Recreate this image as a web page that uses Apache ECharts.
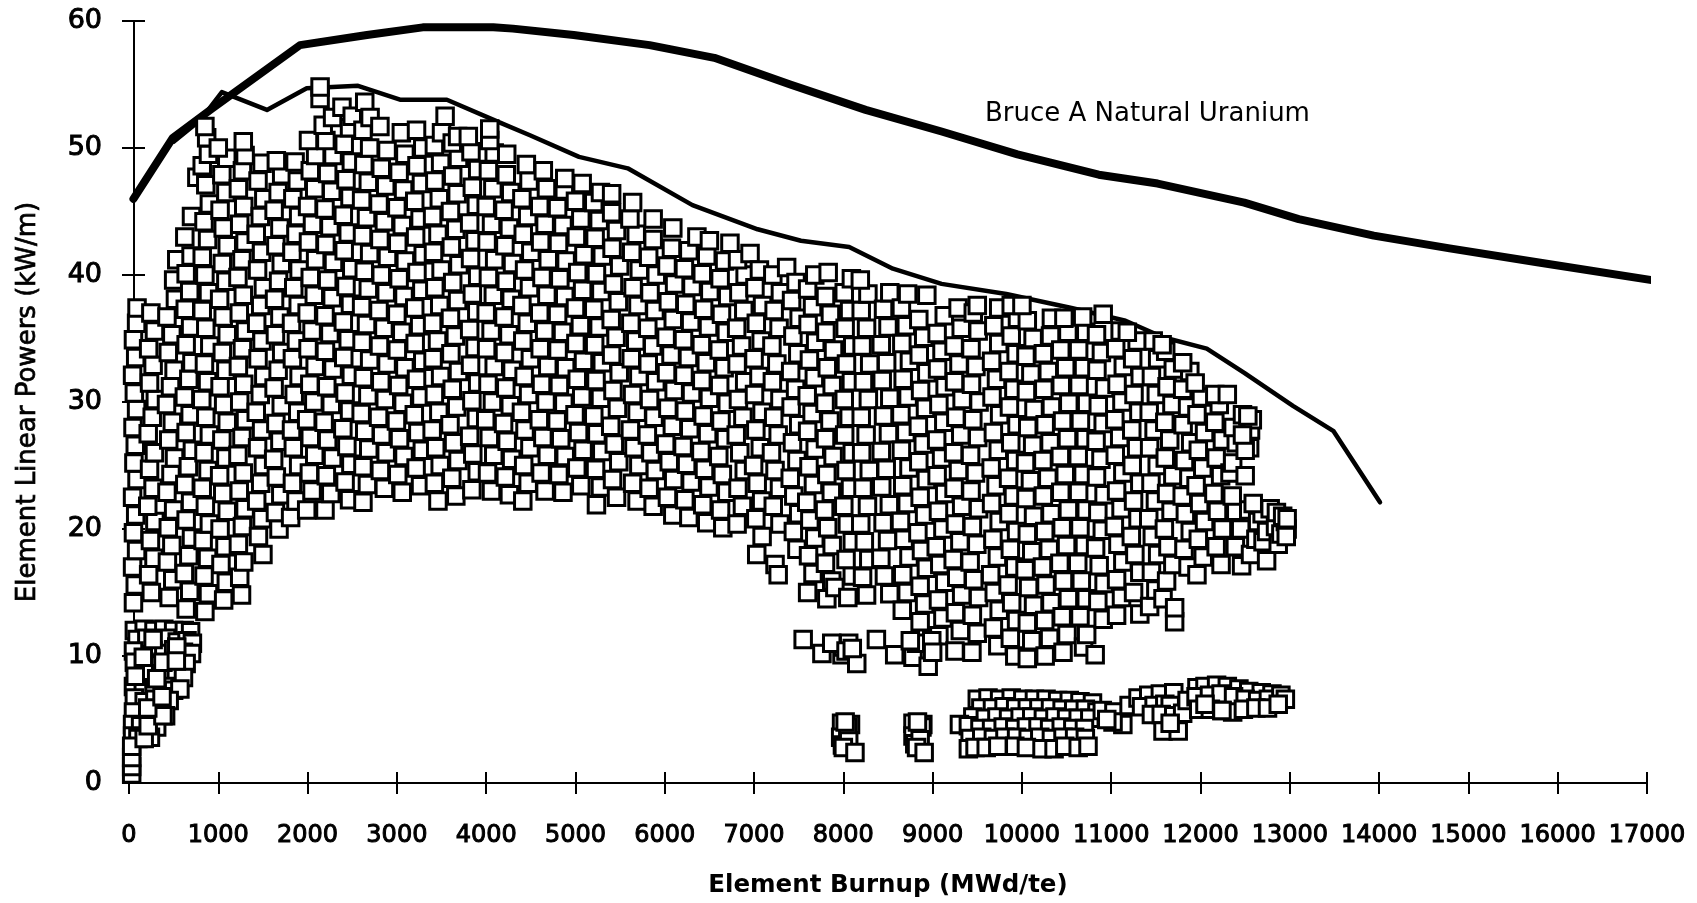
<!DOCTYPE html>
<html><head><meta charset="utf-8"><style>html,body{margin:0;padding:0;background:#fff}#c{width:1697px;height:903px}</style>
<script src="https://cdn.jsdelivr.net/npm/echarts@6/dist/echarts.min.js"></script></head><body><div id="c"></div>
<script>
const bruceBurnup=[50,490,930,1915,2665,3290,4080,4300,4980,5830,6555,7405,8250,9100,9950,10860,11520,12490,13100,13940,14790,15770,17145];
const brucePower=[46,50.8,53.1,58.1,58.9,59.5,59.5,59.4,58.9,58.1,57.1,55,53,51.3,49.5,47.9,47.2,45.7,44.4,43.1,42.1,41,39.5];
const envelopeBurnup=[500,800,1040,1545,1990,2565,3035,3560,4155,4490,5040,5585,6310,7040,7525,8065,8555,9100,9825,10555,11160,11580,12070,12490,13035,13490,14010];
const envelopePower=[50.5,52.2,54.4,53,54.7,54.9,53.8,53.8,52,51,49.3,48.4,45.5,43.6,42.7,42.2,40.5,39.3,38.5,37.4,36.4,35.1,34.2,32.3,29.7,27.7,22.1];
const xTickLabels=["0","1000","2000","3000","4000","5000","6000","7000","8000","9000","10000","11000","12000","13000","14000","15000","16000","17000"];
const lowBurnupBundles=[60,12,170,12.1,280,12,390,12.1,500,12,620,12,690,11.9,90,11.3,200,11.4,420,11.4,540,11.1,650,11.2,710,11,50,10.4,270,10.4,390,10.2,500,10.5,610,10.3,700,10.2,60,9.5,180,9.4,300,9.3,410,9.4,640,9.4,170,8.6,420,8.6,530,8.4,610,8.3,50,7.6,160,7.4,280,7.5,400,7.6,500,7.3,570,7.4,60,6.7,170,6.4,290,6.6,450,6.5,50,5.6,330,5.6,410,5.3,40,4.6,130,4.5,310,4.4,40,3.7,100,3.5,240,3.6,30,0.7,30,1.3,30,2,30,2.9,170,3.5,215,4.5,380,5.3,210,5.9,370,6.8,310,8.2,70,8.4,160,9.9,380,9.5,535,10.7,270,11.3,530,9.6];
const burnup0to1000=[50,14.2,70,15.6,40,17,85,18.3,50,19.7,75,21.1,40,22.5,90,23.9,55,25.2,70,26.6,45,28,85,29.4,60,30.7,40,32.1,75,33.5,50,34.9,85,36.2,90,37.4,
250,15,220,16.4,280,17.7,240,19.1,290,20.6,210,21.8,270,23.2,230,24.7,285,26,215,27.5,260,28.8,295,30.2,230,31.5,270,32.9,220,34.2,285,35.6,245,37,
450,14.6,490,16,430,17.4,480,18.7,440,20.1,500,21.5,425,22.9,470,24.3,510,25.6,445,27,485,28.4,420,29.8,465,31.2,505,32.5,440,33.9,480,35.3,425,36.7,520,38.1,500,39.6,535,41.2,
640,13.7,680,15.1,620,16.5,670,17.9,700,19.3,640,20.7,690,22.1,625,23.5,665,24.9,710,26.2,640,27.6,685,29,620,30.4,670,31.8,705,33.1,640,34.5,690,35.9,630,37.3,680,38.7,640,40.1,695,41.5,625,43,700,44.6,
850,13.5,890,14.9,840,16.3,880,17.7,830,19.1,900,20.4,855,21.8,820,23.2,885,24.6,840,26,900,27.4,860,28.8,815,30.2,880,31.6,845,33,905,34.4,860,35.8,820,37.2,890,38.6,850,40,820,41.4,880,42.8,840,44.2,900,45.6,760,47.7,860,47.1,820,48.6,890,49.5,870,50.8,850,51.7];
const burnup1000to2000=[1060,14.4,1090,15.8,1030,17.2,1075,18.6,1020,20,1100,21.4,1050,22.8,1015,24.2,1085,25.6,1040,27,1100,28.4,1060,29.8,1020,31.2,1085,32.5,1045,33.9,1100,35.3,1055,36.7,1015,38.1,1085,39.5,1045,40.9,1100,42.3,1055,43.7,1020,45.1,1085,46.5,1040,47.9,1095,49.2,1000,50,
1260,14.8,1240,16.2,1285,17.4,1225,18.8,1270,20.2,1300,21.6,1235,23,1280,24.4,1220,25.8,1265,27.2,1305,28.6,1240,30,1285,31.4,1225,32.8,1270,34.2,1305,35.6,1235,37,1280,38.4,1220,39.8,1265,41.2,1300,42.6,1240,44,1285,45.4,1225,46.8,1270,48.2,1300,49.4,1280,50.5,
1500,18,1450,19.4,1490,20.8,1430,22.2,1475,23.6,1505,25,1440,26.4,1485,27.8,1425,29.2,1470,30.6,1510,32,1445,33.4,1490,34.8,1430,36.2,1475,37.6,1505,39,1440,40.4,1485,41.8,1425,43.2,1470,44.6,1510,46,1445,47.4,1490,48.8,
1680,20,1640,21.3,1700,22.7,1650,24.1,1620,25.5,1690,26.9,1645,28.3,1705,29.7,1625,31.1,1670,32.5,1710,33.9,1640,35.3,1690,36.7,1630,38.1,1675,39.5,1705,40.9,1645,42.3,1690,43.7,1625,45.1,1670,46.5,1710,47.9,1650,49,
1810,20.9,1870,22.2,1830,23.6,1900,25,1840,26.4,1820,27.8,1890,29.2,1850,30.6,1905,32,1830,33.4,1875,34.8,1820,36.2,1895,37.6,1845,39,1905,40.4,1825,41.8,1870,43.2,1900,44.6,1835,46,1885,47.4,1860,48.9];
const burnup2000to4000=[1990,21.5,2050,23,2020,24.4,2080,25.8,2030,27.2,1990,28.6,2070,30,2025,31.4,2085,32.8,2005,34.2,2050,35.6,1995,37,2075,38.4,2030,39.8,2090,41.2,2010,42.6,2055,44,2000,45.4,2080,46.8,2030,48.2,2090,49.4,2010,50.6,2140,53.9,2140,54.8,
2195,21.5,2260,22.8,2210,24.2,2280,25.6,2225,27,2185,28.4,2265,29.8,2215,31.2,2285,32.6,2200,34,2250,35.4,2195,36.8,2275,38.2,2225,39.6,2290,41,2205,42.4,2250,43.8,2195,45.2,2270,46.6,2225,48,2285,49.4,2205,50.6,2175,51.8,2280,52.4,
2470,22.3,2420,23.7,2485,25.1,2440,26.5,2395,27.9,2470,29.3,2420,30.7,2490,32.1,2405,33.5,2455,34.9,2400,36.3,2480,37.7,2430,39.1,2495,40.5,2410,41.9,2455,43.3,2400,44.7,2475,46.1,2430,47.5,2490,48.9,2410,50.3,2470,51.6,2385,53.2,2500,52.5,
2620,22.1,2670,23.5,2620,24.9,2685,26.3,2640,27.7,2600,29.1,2675,30.5,2625,31.9,2695,33.3,2610,34.7,2660,36.1,2605,37.5,2680,38.9,2635,40.3,2695,41.7,2615,43.1,2660,44.5,2605,45.9,2680,47.3,2630,48.7,2695,50,2620,51.4,2640,53.6,2700,52.4,
2860,23.2,2815,24.6,2880,26,2830,27.4,2795,28.8,2870,30.2,2820,31.6,2890,33,2805,34.4,2855,35.8,2800,37.2,2880,38.6,2825,40,2895,41.4,2810,42.8,2860,44.2,2800,45.6,2875,47,2825,48.4,2890,49.8,2810,51.7,
3060,22.9,3010,24.3,3080,25.7,3030,27.1,2995,28.5,3070,29.9,3020,31.3,3090,32.7,3005,34.1,3055,35.5,3000,36.9,3080,38.3,3025,39.7,3095,41.1,3010,42.5,3060,43.9,3000,45.3,3075,46.7,3025,48.1,3090,49.5,3050,51.2,
3265,23.4,3215,24.8,3285,26.2,3235,27.6,3195,29,3270,30.4,3220,31.8,3290,33.2,3205,34.6,3255,36,3200,37.4,3280,38.8,3225,40.2,3295,41.6,3210,43,3260,44.4,3200,45.8,3275,47.2,3225,48.6,3290,50,3220,51.4,
3460,22.2,3420,23.6,3485,25,3435,26.4,3395,27.8,3470,29.2,3420,30.6,3490,32,3405,33.4,3455,34.8,3400,36.2,3480,37.6,3425,39,3495,40.4,3410,41.8,3460,43.2,3400,44.6,3475,46,3425,47.4,3490,48.8,3420,50.2,3540,52.5,3500,51.2,
3660,22.6,3615,24,3685,25.4,3635,26.8,3595,28.2,3670,29.6,3620,31,3690,32.4,3605,33.8,3655,35.2,3600,36.6,3680,38,3625,39.4,3695,40.8,3610,42.2,3660,43.6,3600,45,3675,46.4,3625,47.8,3690,49.2,3620,50.4,3680,50.9,
3840,23.1,3900,24.5,3850,25.9,3815,27.3,3890,28.7,3840,30.1,3905,31.5,3825,32.9,3875,34.3,3815,35.7,3895,37.1,3845,38.5,3905,39.9,3825,41.3,3875,42.7,3815,44.1,3890,45.5,3845,46.9,3905,48.3,3830,49.7,3800,50.9];
const burnup4000to6000=[4060,23,4015,24.4,4085,25.8,4035,27.2,3995,28.6,4070,30,4020,31.4,4090,32.8,4005,34.2,4055,35.6,4000,37,4080,38.4,4025,39.8,4095,41.2,4010,42.6,4060,44,4000,45.4,4075,46.8,4025,48.2,4090,49.6,4040,50.6,4040,51.5,
4260,22.7,4215,24.1,4285,25.5,4235,26.9,4195,28.3,4270,29.7,4220,31.1,4290,32.5,4205,33.9,4255,35.3,4200,36.7,4280,38.1,4225,39.5,4295,40.9,4210,42.3,4260,43.7,4200,45.1,4275,46.5,4225,47.9,4230,49.5,
4410,22.2,4470,23.6,4420,25,4490,26.4,4435,27.8,4395,29.2,4475,30.6,4425,32,4495,33.4,4410,34.8,4460,36.2,4400,37.6,4485,39,4430,40.4,4500,41.8,4415,43.2,4465,44.6,4400,46,4480,47.4,4450,48.7,
4660,23,4615,24.4,4685,25.8,4635,27.2,4595,28.6,4670,30,4620,31.4,4690,32.8,4605,34.2,4655,35.6,4600,37,4680,38.4,4625,39.8,4695,41.2,4610,42.6,4660,44,4600,45.4,4675,46.8,4640,48.2,
4860,22.9,4815,24.3,4885,25.7,4835,27.1,4795,28.5,4870,29.9,4820,31.3,4890,32.7,4805,34.1,4855,35.5,4800,36.9,4880,38.3,4825,39.7,4895,41.1,4810,42.5,4860,43.9,4800,45.3,4875,46.7,4880,47.6,
5060,23.4,5015,24.8,5085,26.2,5035,27.6,4995,29,5070,30.4,5020,31.8,5090,33.2,5005,34.6,5055,36,5000,37.4,5080,38.8,5025,40.2,5095,41.6,5010,43,5060,44.4,5000,45.8,5075,47.2,
5235,21.9,5280,23.3,5225,24.7,5295,26.1,5240,27.5,5205,28.9,5280,30.3,5230,31.7,5300,33.1,5215,34.5,5265,35.9,5205,37.3,5285,38.7,5235,40.1,5300,41.5,5220,42.9,5265,44.3,5205,45.7,5280,46.5,
5460,22.5,5415,23.9,5485,25.3,5435,26.7,5395,28.1,5470,29.5,5420,30.9,5490,32.3,5405,33.7,5455,35.1,5400,36.5,5480,37.9,5425,39.3,5495,40.7,5410,42.1,5460,43.5,5405,44.9,5405,46.4,
5690,22.2,5640,23.6,5710,25,5655,26.4,5615,27.8,5690,29.2,5640,30.6,5710,32,5625,33.4,5675,34.8,5620,36.2,5700,37.6,5645,39,5715,40.4,5630,41.8,5680,43.2,5610,44.4,5640,45.7,
5870,21.8,5825,23.2,5895,24.6,5845,26,5805,27.4,5880,28.8,5830,30.2,5900,31.6,5815,33,5865,34.4,5810,35.8,5890,37.2,5835,38.6,5905,40,5820,41.4,5870,42.8,5870,44.4];
const burnup6000to8000=[6090,21.1,6030,22.5,6100,23.9,6050,25.3,6010,26.7,6085,28.1,6035,29.5,6105,30.9,6020,32.3,6070,33.7,6015,35.1,6095,36.5,6040,37.9,6110,39.3,6025,40.7,6075,42.1,6090,43.7,
6270,20.9,6225,22.3,6295,23.7,6245,25.1,6205,26.5,6280,27.9,6230,29.3,6300,30.7,6215,32.1,6265,33.5,6210,34.9,6290,36.3,6235,37.7,6305,39.1,6220,40.5,6270,41.9,6360,43,
6470,20.5,6425,21.9,6495,23.3,6445,24.7,6405,26.1,6480,27.5,6430,28.9,6500,30.3,6415,31.7,6465,33.1,6410,34.5,6490,35.9,6435,37.3,6505,38.7,6420,40.1,6470,41.5,6500,42.7,
6650,20.1,6625,21.5,6695,22.9,6645,24.3,6605,25.7,6680,27.1,6630,28.5,6700,29.9,6615,31.3,6665,32.7,6610,34.1,6690,35.5,6635,36.9,6705,38.3,6620,39.7,6670,41.1,6730,42.5,
6810,20.4,6870,21.8,6820,23.2,6890,24.6,6840,26,6800,27.4,6875,28.8,6825,30.2,6895,31.6,6810,33,6860,34.4,6805,35.8,6885,37.2,6830,38.6,6900,40,6815,41.2,6955,41.7,
7030,18,7090,19.4,7020,20.8,7085,22.2,7035,23.6,6995,25,7070,26.4,7020,27.8,7090,29.2,7005,30.6,7055,32,7000,33.4,7080,34.8,7025,36.2,7095,37.6,7010,39,7060,40.4,
7235,17.2,7270,16.4,7290,20.4,7215,21.8,7285,23.2,7235,24.6,7195,26,7270,27.4,7220,28.8,7290,30.2,7205,31.6,7255,33,7200,34.4,7280,35.8,7225,37.2,7295,38.6,7210,40,7365,40.6,
7480,18.4,7440,19.8,7500,21.2,7445,22.6,7405,24,7480,25.4,7430,26.8,7500,28.2,7415,29.6,7465,31,7410,32.4,7490,33.8,7435,35.2,7505,36.6,7420,38,7470,39.4,
7600,15,7660,16.5,7610,17.9,7680,19.3,7625,20.7,7590,22.1,7665,23.5,7615,24.9,7685,26.3,7600,27.7,7650,29.1,7595,30.5,7675,31.9,7620,33.3,7690,34.7,7605,36.1,7655,37.5,7600,38.9,7680,40,
7815,14.5,7870,15.9,7905,15.4,7800,17.3,7875,18.7,7825,20.1,7790,21.5,7865,22.9,7815,24.3,7885,25.7,7800,27.1,7850,28.5,7795,29.9,7875,31.3,7820,32.7,7890,34.1,7805,35.5,7855,36.9,7800,38.3,7830,40.2];
const burnup8000to10000=[8050,14.6,8100,16.3,8030,17.6,8100,19,8045,20.4,8005,21.8,8080,23.2,8030,24.6,8100,26,8015,27.4,8065,28.8,8010,30.2,8090,31.6,8035,33,8105,34.4,8020,35.8,8070,37.2,8010,38.6,8090,39.7,
8260,14.8,8215,16.2,8285,17.6,8235,19,8195,20.4,8270,21.8,8220,23.2,8290,24.6,8205,26,8255,27.4,8200,28.8,8280,30.2,8225,31.6,8295,33,8210,34.4,8260,35.8,8200,37.2,8275,38.5,8190,39.6,
8520,14.9,8460,16.3,8420,17.7,8495,19.1,8445,20.5,8515,21.9,8430,23.3,8480,24.7,8425,26.1,8505,27.5,8450,28.9,8520,30.3,8435,31.7,8485,33.1,8425,34.5,8500,35.9,8450,37.3,8520,38.6,
8660,13.6,8715,15,8665,16.4,8735,17.8,8680,19.2,8640,20.6,8715,22,8665,23.4,8735,24.8,8650,26.2,8700,27.6,8645,29,8725,30.4,8670,31.8,8740,33.2,8655,34.6,8705,36,8650,37.4,8720,38.5,
8860,12.7,8910,14.1,8860,15.5,8930,16.9,8875,18.3,8835,19.7,8910,21.1,8860,22.5,8930,23.9,8845,25.3,8895,26.7,8840,28.1,8920,29.5,8865,30.9,8935,32.3,8850,33.7,8900,35.1,8845,36.5,8935,38.4,
9070,11.6,9115,13,9065,14.4,9135,15.8,9080,17.2,9040,18.6,9115,20,9065,21.4,9135,22.8,9050,24.2,9100,25.6,9045,27,9125,28.4,9070,29.8,9140,31.2,9055,32.6,9105,34,9050,35.4,9130,36.8,
9250,10.4,9310,12,9255,13.4,9325,14.8,9270,16.2,9230,17.6,9305,19,9255,20.4,9325,21.8,9240,23.2,9290,24.6,9235,26,9315,27.4,9260,28.8,9330,30.2,9245,31.6,9295,33,9240,34.4,9320,35.8,9285,37.4,
9440,10.3,9500,11.8,9445,13.2,9515,14.6,9460,16,9420,17.4,9495,18.8,9445,20.2,9515,21.6,9430,23,9480,24.4,9425,25.8,9505,27.2,9450,28.6,9520,30,9435,31.4,9485,32.8,9430,34.2,9510,35.6,9455,37,9500,37.6,
9730,10.8,9680,12.2,9745,13.6,9690,15,9650,16.4,9725,17.8,9675,19.2,9745,20.6,9660,22,9710,23.4,9655,24.8,9735,26.2,9680,27.6,9750,29,9665,30.4,9715,31.8,9660,33.2,9740,34.6,9685,36,9740,37.4,
9920,10,9870,11.4,9940,12.8,9885,14.2,9845,15.6,9920,17,9870,18.4,9940,19.8,9855,21.2,9905,22.6,9850,24,9930,25.4,9875,26.8,9945,28.2,9860,29.6,9910,31,9855,32.4,9935,33.8,9880,35.2,9950,36.6,9880,37.6];
const burnup10000to12000=[10060,9.8,10110,11.2,10060,12.6,10130,14,10075,15.4,10035,16.8,10110,18.2,10060,19.6,10130,21,10045,22.4,10095,23.8,10040,25.2,10120,26.6,10065,28,10135,29.4,10050,30.8,10100,32.2,10045,33.6,10125,35,10060,36.4,10000,37.6,
10260,10,10310,11.4,10255,12.8,10325,14.2,10270,15.6,10230,17,10305,18.4,10255,19.8,10325,21.2,10240,22.6,10290,24,10235,25.4,10315,26.8,10260,28.2,10330,29.6,10245,31,10295,32.4,10240,33.8,10320,35.2,10330,36.6,
10460,10.3,10505,11.7,10450,13.1,10520,14.5,10465,15.9,10425,17.3,10500,18.7,10450,20.1,10520,21.5,10435,22.9,10485,24.3,10430,25.7,10510,27.1,10455,28.5,10525,29.9,10440,31.3,10490,32.7,10435,34.1,10515,35.5,10470,36.6,
10690,10.7,10725,11.7,10650,13.1,10720,14.5,10665,15.9,10625,17.3,10700,18.7,10650,20.1,10720,21.5,10635,22.9,10685,24.3,10630,25.7,10710,27.1,10655,28.5,10725,29.9,10640,31.3,10690,32.7,10635,34.1,10715,35.5,10680,36.7,
10820,10.1,10910,12.9,10850,14.3,10920,15.7,10865,17.1,10825,18.5,10900,19.9,10850,21.3,10920,22.7,10835,24.1,10885,25.5,10830,26.9,10910,28.3,10855,29.7,10925,31.1,10840,32.5,10890,33.9,10835,35.3,10910,36.9,
11060,13.2,11115,14.6,11060,16,11130,17.4,11075,18.8,11035,20.2,11110,21.6,11060,23,11130,24.4,11045,25.8,11095,27.2,11040,28.6,11120,30,11065,31.4,11135,32.8,11050,34.2,11100,35.6,
11320,13.3,11250,15,11320,16.6,11265,18,11225,19.4,11300,20.8,11250,22.2,11320,23.6,11235,25,11285,26.4,11230,27.8,11310,29.2,11255,30.6,11325,32,11240,33.4,11290,34.8,11180,35.5,
11430,13.9,11500,15.2,11450,16.6,11520,18,11460,19.4,11420,20.8,11495,22.2,11445,23.6,11515,25,11430,26.4,11480,27.8,11425,29.2,11505,30.6,11450,32,11520,33.4,11470,34.8,
11580,14.5,11710,12.7,11710,13.8,11620,15.9,11690,17.2,11635,18.6,11595,20,11670,21.4,11620,22.8,11690,24.2,11605,25.6,11655,27,11600,28.4,11680,29.8,11625,31.2,11695,32.6,11610,34,11570,34.5,
11860,17,11815,18.4,11885,19.8,11830,21.2,11795,22.6,11870,24,11820,25.4,11890,26.8,11805,28.2,11855,29.6,11800,31,11880,32.4,11800,33.1];
const burnup12000to13000=[11960,16.4,12030,17.8,11975,19.2,12045,20.6,11990,22,11950,23.4,12025,24.8,11975,26.2,12045,27.6,11960,29,12010,30.4,11940,31.5,
12230,17.2,12175,18.6,12245,20,12190,21.4,12150,22.8,12225,24.2,12175,25.6,12245,27,12160,28.4,12210,29.8,12160,30.6,
12460,17.1,12390,18.6,12450,20,12395,21.4,12355,22.6,12330,24.4,12360,25.2,12400,26.8,12365,28,12300,30.6,12470,29,
12560,18,12540,21.5,12500,24.2,12550,26.4,12560,27.8,12580,28.6,12500,26.2,12470,27.4,12530,28.9,
12740,17.5,12620,19.2,12700,19,12640,20.6,12740,19.8,12690,21.2,12780,21.6,12590,22,
12870,18.8,12840,20.2,12900,19.6,12950,20.6,12970,20,12850,21.3,12960,19.4,12920,21,12970,20.8];
const lowPowerRow=[7550,11.3,7760,10.2,7985,10.1,8000,10.7,7870,11,8060,11,8030,10.4,8150,9.4,8100,10.6,8370,11.3,8575,10.1,8780,9.9,8950,9.2,8820,11,8990,11.2,9000,10.3,8750,11.2];
const lateBundles=[7980,4.7,8080,4.6,7970,3.6,8050,4.4,7990,3,8060,3.3,8000,2.8,8130,2.4,8020,4.8,
8780,4.7,8890,4.6,8780,3.7,8880,4.4,8800,3.1,8860,3.4,8820,2.8,8905,2.4,8830,4.8,
9500,6.6,9620,6.7,9750,6.6,9880,6.7,10010,6.6,10140,6.6,10270,6.6,10400,6.5,10530,6.5,10650,6.4,10790,6.3,9540,5.9,9670,5.9,9800,6,9930,5.9,10060,5.9,10190,5.9,10320,5.9,10450,5.8,10580,5.8,10710,5.8,10840,5.6,9450,5.2,9590,5.1,9720,5.2,9850,5.1,9980,5.2,10110,5.2,10240,5.1,10370,5.2,10500,5.1,10630,5.1,10760,5.1,9300,4.6,9400,4.5,9530,4.3,9660,4.3,9790,4.4,9920,4.3,10050,4.4,10180,4.4,10310,4.3,10440,4.4,10570,4.3,10700,4.3,9420,3.5,9550,3.6,9680,3.5,9810,3.6,9940,3.6,10070,3.5,10200,3.6,10330,3.5,10460,3.6,10590,3.6,10710,3.5,9400,2.7,9475,2.8,9600,2.8,9730,2.9,9920,2.9,10050,2.8,10225,2.7,10360,2.7,10480,2.9,10630,2.8,10740,2.9,
10900,5.7,11030,5.6,11130,4.6,11020,4.8,10950,5,11200,6.1,11300,6.7,11420,6.9,11550,7,11700,7.1,11340,6,11480,6.1,11600,6.2,11660,6.1,11450,5.4,11560,5.4,11700,5.3,11800,5.5,11580,4.1,11750,4.1,11660,4.7,11850,6.5,11960,7.5,12050,7.6,12180,7.7,12300,7.6,12430,7.4,12540,7.2,12680,7.1,12800,7,11950,6.8,12100,6.9,12230,7,12370,6.8,12500,6.6,12640,6.5,12760,6.6,12900,6.9,12950,6.6,11980,5.8,12110,5.8,12240,5.7,12360,5.6,12480,5.8,12620,5.9,12750,5.9,12870,6.2,12050,6.2,12240,5.7];
const squareGroups=[lowBurnupBundles,burnup0to1000,burnup1000to2000,burnup2000to4000,burnup4000to6000,burnup6000to8000,burnup8000to10000,burnup10000to12000,burnup12000to13000,lowPowerRow,lateBundles];
const pairs=[];
squareGroups.forEach(g=>{for(let i=0;i<g.length;i+=2)pairs.push([g[i],g[i+1]]);});
const zip=(a,b)=>a.map((v,i)=>[v,b[i]]);
const chart=echarts.init(document.getElementById('c'),null,{renderer:'canvas'});
const font='"DejaVu Sans"';
const xBase={type:'value',min:0,max:17000,interval:1000,splitLine:{show:false},axisLine:{show:true,onZero:false,lineStyle:{color:'#000',width:2}}};
const yBase={type:'value',min:0,max:60,interval:10,offset:-5,splitLine:{show:false},axisLine:{show:true,onZero:false,lineStyle:{color:'#000',width:2}}};
chart.setOption({
 animation:false,backgroundColor:'#fff',
 title:{text:'Bruce A Natural Uranium',left:985,top:101,padding:0,textStyle:{fontFamily:font,fontSize:26,fontWeight:'normal',color:'#000'}},
 grid:{left:129,top:21,width:1518,height:763,containLabel:false},
 xAxis:[Object.assign({},xBase,{axisTick:{length:11,lineStyle:{color:'#000',width:2}},axisLabel:{margin:41,interval:0,color:'#000',fontFamily:font,fontSize:24,textBorderColor:'#000',textBorderWidth:1,formatter:(v)=>xTickLabels[v/1000]},name:'Element Burnup (MWd/te)',nameLocation:'center',nameGap:90,nameTextStyle:{color:'#000',fontFamily:font,fontSize:24.5,fontWeight:'bold'}}),
  Object.assign({},xBase,{position:'bottom',axisTick:{inside:true,length:11,lineStyle:{color:'#000',width:2}},axisLabel:{show:false}})],
 yAxis:[Object.assign({},yBase,{axisTick:{length:12,lineStyle:{color:'#000',width:2}},axisLabel:{margin:32,color:'#000',fontFamily:font,fontSize:27,textBorderColor:'#000',textBorderWidth:1},name:'Element Linear Powers (kW/m)',nameLocation:'center',nameGap:93,nameTextStyle:{color:'#000',fontFamily:font,fontSize:26,fontWeight:'normal',textBorderColor:'#000',textBorderWidth:0.7}}),
  Object.assign({},yBase,{position:'left',axisTick:{inside:true,length:11,lineStyle:{color:'#000',width:2}},axisLabel:{show:false}})],
 series:[
  {name:'Bruce A Natural Uranium',type:'line',z:2,symbol:'none',clip:false,data:zip(bruceBurnup,brucePower),lineStyle:{color:'#000',width:8,cap:'round',join:'round'}},
  {name:'Envelope',type:'line',z:2,symbol:'none',clip:false,data:zip(envelopeBurnup,envelopePower),lineStyle:{color:'#000',width:4.5,cap:'round',join:'round'}},
  {name:'Elements',type:'scatter',z:3,clip:false,symbol:'rect',symbolSize:16.5,data:pairs,itemStyle:{color:'#fff',borderColor:'#000',borderWidth:3,opacity:1},large:false,progressive:0,silent:true}
 ]
});
</script></body></html>
